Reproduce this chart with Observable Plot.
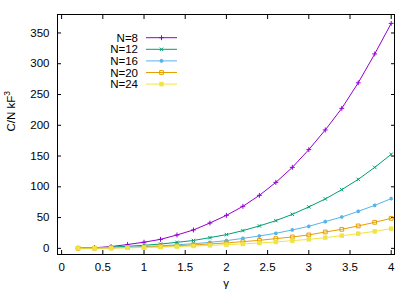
<!DOCTYPE html>
<html><head><meta charset="utf-8">
<script src="https://cdn.jsdelivr.net/npm/d3@7"></script>
<script src="https://cdn.jsdelivr.net/npm/@observablehq/plot@0.6"></script>
<style>body{margin:0;background:#fff} #chart{position:relative;width:415px;height:291px}</style>
</head><body><div id="chart"></div>
<script>
const gamma = [0.2,0.4,0.6,0.8,1.0,1.2,1.4,1.6,1.8,2.0,2.2,2.4,2.6,2.8,3.0,3.2,3.4,3.6,3.8,4.0];
const n8  = [0.2,1.0,2.8,6.2,10.0,14.6,21.7,29.9,41.2,53.6,68.3,86.1,107.2,131.6,160.4,192.4,227.5,269.0,315.9,365.6];
const n12 = [0.2,0.8,2.0,3.3,5.0,7.0,9.8,12.8,17.4,22.3,28.8,36.4,45.0,55.3,67.3,80.3,95.4,112.1,131.6,152.8];
const n16 = [0.1,0.5,1.0,1.8,2.8,4.0,5.7,7.5,9.8,12.5,16.2,20.1,24.4,29.9,35.8,43.4,51.0,60.1,69.9,80.8];
const n20 = [0.1,0.3,0.7,1.3,2.0,3.0,4.2,5.5,7.1,8.8,10.9,13.0,15.8,18.5,21.8,26.6,30.9,36.4,42.3,48.8];
const n24 = [0.05,0.2,0.5,0.9,1.4,2.1,2.9,3.8,4.8,6.0,7.1,8.7,10.4,12.5,14.6,17.4,20.6,23.9,27.6,32.0];
const seriesNames = ["N=8","N=12","N=16","N=20","N=24"];
const seriesValues = [n8,n12,n16,n20,n24];
const seriesColors = ["#9400d3","#009e73","#56b4e9","#e69f00","#f0e442"];
const seriesSymbols = ["plus","times","asterisk","square2","square"];
const xTicks = [0,0.5,1,1.5,2,2.5,3,3.5,4];
const xTickLabels = ["0","0.5","1","1.5","2","2.5","3","3.5","4"];
const yTicks = [0,50,100,150,200,250,300,350];
const yTickLabels = ["0","50","100","150","200","250","300","350"];
const xLabel = "γ";
const yLabelMain = "C/N kF";
const yLabelSup = "3";

const font = "'Liberation Sans', Arial, sans-serif";
const symbolR = {plus: 1.7, times: 1.7, asterisk: 1.7, square2: 2.4, square: 2.5};
const marks = [];
seriesNames.forEach((name, i) => {
  const rows = gamma.map((g, j) => ({g, v: seriesValues[i][j]}));
  const sym = seriesSymbols[i];
  const filled = sym === "square";
  marks.push(Plot.line(rows, {x: "g", y: "v", stroke: seriesColors[i], strokeWidth: 1}));
  marks.push(Plot.dot(rows, {x: "g", y: "v", symbol: () => sym,
    r: symbolR[sym],
    fill: filled ? seriesColors[i] : "none",
    stroke: filled ? "none" : seriesColors[i], strokeWidth: sym === "asterisk" ? 1.5 : 1}));
});

const plot = Plot.plot({
  width: 415, height: 291,
  marginLeft: 57, marginRight: 21, marginTop: 14, marginBottom: 37,
  style: {fontFamily: font, fontSize: "11.5px", color: "#000", background: "#fff"},
  x: {domain: [-0.05, 4.04]},
  y: {domain: [-10, 380]},
  symbol: {type: "identity"},
  marks: [
    Plot.axisX(xTicks, {anchor: "bottom", tickSize: 0, tickPadding: 8, tickFormat: (d) => xTickLabels[xTicks.indexOf(d)], label: null}),
    Plot.axisX(xTicks, {anchor: "bottom", tickSize: -4, tickFormat: () => "", label: null}),
    Plot.axisX(xTicks, {anchor: "top", tickSize: -4, tickFormat: () => "", label: null}),
    Plot.axisY(yTicks, {anchor: "left", tickSize: 0, tickPadding: 8, tickFormat: (d) => yTickLabels[yTicks.indexOf(d)], label: null}),
    Plot.axisY(yTicks, {anchor: "left", tickSize: -4, tickFormat: () => "", label: null}),
    Plot.axisY(yTicks, {anchor: "right", tickSize: -4, tickFormat: () => "", label: null}),
    ...marks,
    Plot.frame({stroke: "#000", strokeWidth: 1}),
    Plot.text([yLabelMain], {frameAnchor: "left", dx: -46, dy: -3, rotate: -90, text: (d) => d, fontSize: 11.5, className: "ylab"}),
    Plot.text([xLabel], {frameAnchor: "bottom", dy: 32, text: (d) => d, fontSize: 11.5})
  ]
});
document.getElementById("chart").appendChild(plot);

const svg = d3.select(plot);
// superscript on the y label
svg.selectAll(".ylab text").append("tspan").attr("baseline-shift", "super").attr("font-size", "8.5px").text(yLabelSup);

// legend (gnuplot-style key)
const key = svg.append("g").attr("font-family", font).attr("font-size", "11.5px");
const symFor = {plus: d3.symbolPlus, times: d3.symbolTimes, asterisk: d3.symbolAsterisk, square2: d3.symbolSquare2, square: d3.symbolSquare};
seriesNames.forEach((name, i) => {
  const y = 37.7 + i * 11.6;
  const sym = seriesSymbols[i];
  const filled = sym === "square";
  key.append("text").attr("x", 138).attr("y", y).attr("dy", "0.35em").attr("text-anchor", "end").attr("fill", "#000").text(name);
  key.append("line").attr("x1", 146).attr("x2", 177).attr("y1", y).attr("y2", y).attr("stroke", seriesColors[i]).attr("stroke-width", 1);
  key.append("path").attr("transform", `translate(161.5,${y})`)
    .attr("d", d3.symbol(symFor[sym], Math.PI * symbolR[sym] ** 2)())
    .attr("fill", filled ? seriesColors[i] : "none")
    .attr("stroke", filled ? "none" : seriesColors[i]).attr("stroke-width", sym === "asterisk" ? 1.5 : 1);
});
</script>
</body></html>
